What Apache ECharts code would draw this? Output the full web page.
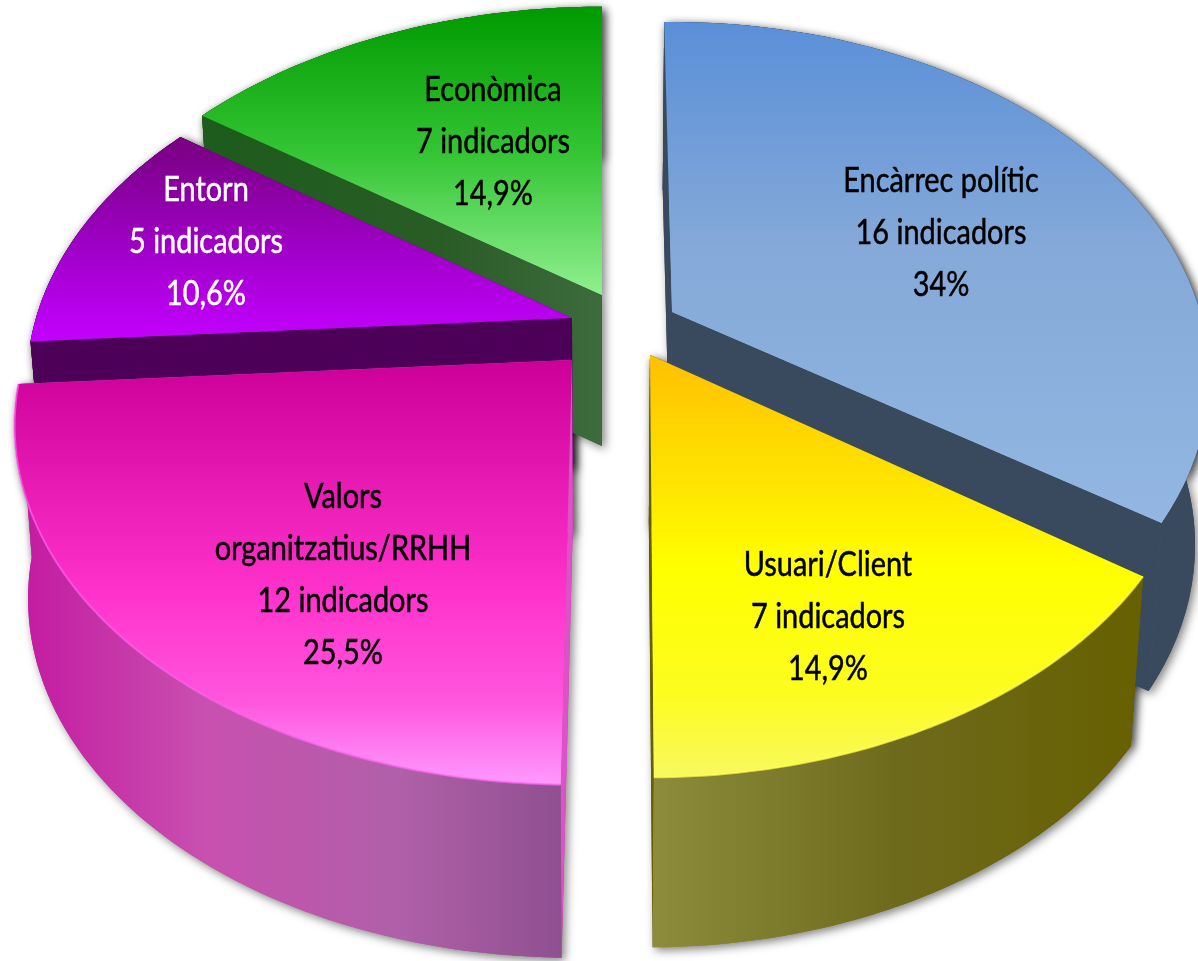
<!DOCTYPE html>
<html>
<head>
<meta charset="utf-8">
<style>
  html, body { margin: 0; padding: 0; background: #fff; }
  #main { width: 1198px; height: 961px; }
  /* the source is an upscaled screenshot, slightly soft */
  #main canvas { filter: blur(0.6px); }
</style>
<script src="https://cdn.jsdelivr.net/npm/echarts@6/dist/echarts.min.js"></script>
</head>
<body>
<div id="main"></div>
<script>
// data, clockwise from 12 o'clock
var categories = ['Encàrrec polític', 'Usuari/Client', 'Valors\norganitzatius/RRHH', 'Entorn', 'Econòmica'];
var indicators = [16, 7, 12, 5, 7];
var percents = ['34%', '14,9%', '25,5%', '10,6%', '14,9%'];

var G = echarts.graphic.LinearGradient;
function vert(stops) { return new G(0, 0, 0, 1, stops.map(function (s) { return { offset: s[0], color: s[1] }; })); }
function horiz(stops) { return new G(0, 0, 1, 0, stops.map(function (s) { return { offset: s[0], color: s[1] }; })); }

var greenWall = horiz([[0, '#1c5c1c'], [0.6, '#2a5c26'], [1, '#3d6b3d']]);

// how each slice is placed on the page (the source picture is a hand-stretched 3D pie)
var look = [
  { cx: 672, cy: 312, rx: 528, ry: 343, depth: 168, a0: -1, a1: 1, order: 0, tx: 941, ty: 233, color: '#000',
    top: vert([[0, '#5a8fd8'], [0.45, '#85a9d8'], [1, '#93b7e2']]), rim: '#3a4a5e', side: '#3a4a5e' },
  { cx: 650, cy: 355, rx: 539, ry: 345, depth: 170, a0: 2.5, a1: 3.5, order: 4, tx: 828, ty: 617, color: '#000',
    top: vert([[0, '#ffc000'], [0.33, '#ffe800'], [0.5, '#ffff00'], [0.8, '#fcfc20'], [1, '#f8f860']]),
    rim: horiz([[0, '#8c8c3c'], [0.5, '#6e6a1c'], [1, '#666000']]), side: '#666000', edge: '#ffff50' },
  { cx: 572, cy: 360, rx: 548, ry: 347, depth: 173, a0: 4.8, a1: -2, order: 3, tx: 343, ty: 575, color: '#000',
    top: vert([[0, '#cc0099'], [0.55, '#ff33cc'], [0.8, '#ff55dd'], [1, '#ff99ff']]),
    rim: horiz([[0, '#c418a0'], [0.35, '#c850b0'], [0.7, '#b060a8'], [1, '#8f5090']]), side: '#e050c8', edge: '#ff60ee' },
  { cx: 572, cy: 318, rx: 536, ry: 341, depth: 150, a0: -2, a1: -0.4, order: 2, tx: 206, ty: 242, color: '#fff',
    top: vert([[0, '#780080'], [0.55, '#a000c8'], [1, '#c400ff']]), rim: '#4d0058', side: '#4d0058' },
  { cx: 602, cy: 295, rx: 544, ry: 341, depth: 151, a0: -0.8, a1: 0, order: 1, tx: 493, ty: 142, color: '#000',
    top: vert([[0, '#009a00'], [0.5, '#33c433'], [1, '#90f090']]), rim: greenWall, side: greenWall }
];
var tilt = 0.183;      // perspective of the disc
var shrink = 0.023;    // bottom rim is a little narrower than the top
var midX = 600;

var total = indicators.reduce(function (a, b) { return a + b; }, 0);

function rimPoint(l, deg) {
  var t = deg * Math.PI / 180, u = Math.sin(t), v = -Math.cos(t);
  var k = 1 / (1 - tilt * v);
  return [l.cx + l.rx * u * k, l.cy + l.ry * v * k];
}
function drop(l, p) {
  return [p[0] - (p[0] - midX) * shrink, p[1] + l.depth];
}

function renderSlice(params, api) {
  var i = params.dataIndex;
  var l = look[i];
  var before = 0;
  for (var n = 0; n < i; n++) before += indicators[n];
  var start = before / total * 360 + l.a0;
  var end = (before + api.value(0)) / total * 360 + l.a1;

  var arc = [];
  for (var s = 0; s <= 60; s++) arc.push(rimPoint(l, start + (end - start) * s / 60));
  var apex = [l.cx, l.cy];
  var first = arc[0], last = arc[arc.length - 1];

  var shapes = [
    { pts: [apex, first, drop(l, first), drop(l, apex)], fill: l.side },
    { pts: [apex, last, drop(l, last), drop(l, apex)], fill: l.side },
    { pts: arc.concat(arc.slice().reverse().map(function (p) { return drop(l, p); })), fill: l.rim },
    { pts: [apex].concat(arc), fill: l.top }
  ];
  var children = [];
  var base = l.order * 10;
  // shadows stay underneath everything so they only fall on the white page
  shapes.forEach(function (sh) {
    children.push({ type: 'polygon', z2: -1, shape: { points: sh.pts },
      style: { fill: sh.fill, shadowBlur: 10, shadowColor: 'rgba(0,0,0,0.5)', shadowOffsetX: 3, shadowOffsetY: 3 } });
  });
  shapes.forEach(function (sh, j) {
    children.push({ type: 'polygon', z2: base + 1 + j, shape: { points: sh.pts }, style: { fill: sh.fill } });
  });
  if (l.edge) {
    children.push({ type: 'polyline', z2: base + 6, shape: { points: arc },
      style: { fill: 'none', stroke: l.edge, lineWidth: 2, opacity: 0.7 } });
  }
  children.push({
    type: 'text', z2: 100, x: l.tx, y: l.ty, scaleX: 0.85,
    style: {
      text: categories[i] + '\n' + api.value(0) + ' indicadors\n' + percents[i],
      x: 0, y: 0, align: 'center', verticalAlign: 'middle',
      fill: l.color, stroke: l.color, lineWidth: 0.5,
      font: '34px Lato, "Noto Sans", sans-serif', lineHeight: 52
    }
  });
  return { type: 'group', children: children };
}

var chart = echarts.init(document.getElementById('main'), null, { renderer: 'canvas' });
chart.setOption({
  animation: false,
  backgroundColor: '#fff',
  series: [{
    type: 'custom',
    coordinateSystem: 'none',
    silent: true,
    clip: false,
    renderItem: renderSlice,
    data: indicators.map(function (v, i) { return { name: categories[i], value: [v] }; })
  }]
});
</script>
</body>
</html>
